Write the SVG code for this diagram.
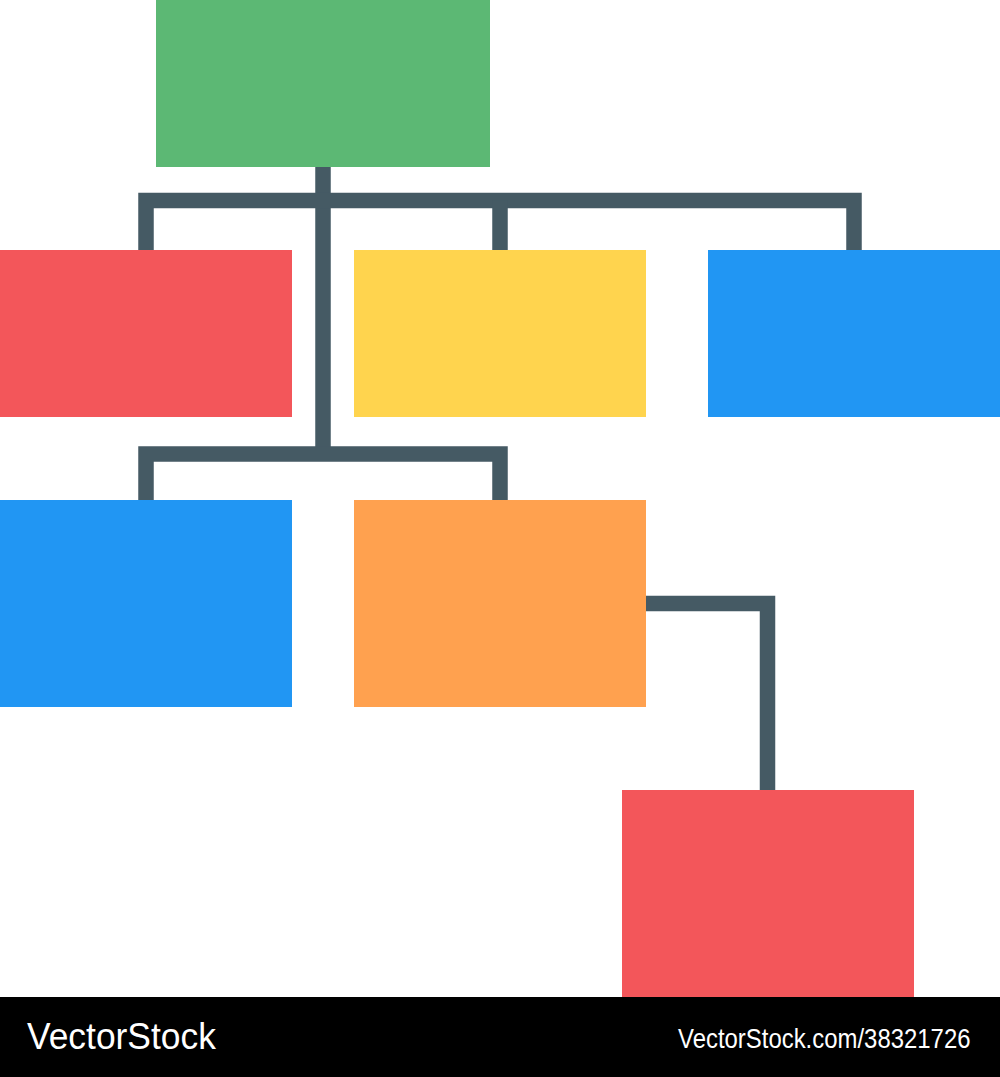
<svg xmlns="http://www.w3.org/2000/svg" width="1000" height="1077" viewBox="0 0 1000 1077">
<style>
.ln{fill:none;stroke:#455A64;stroke-width:15.5;stroke-linejoin:miter;stroke-linecap:butt}
.wm{fill:#FFFFFF;font-family:"Liberation Sans",Arial,sans-serif}
</style>
<rect x="0" y="0" width="1000" height="1077" fill="#FFFFFF"/>
<g id="connectors">
<path class="ln" d="M323 167 V454"/>
<path class="ln" d="M146 250 V200.5 H854 V250"/>
<path class="ln" d="M500 200.5 V250"/>
<path class="ln" d="M146 500 V454 H500 V500"/>
<path class="ln" d="M646 603.5 H767.5 V790"/>
</g>
<g id="root"><rect x="156" y="0" width="334" height="167" fill="#5CB874"/></g>
<g id="n-red1"><rect x="0" y="250" width="292" height="167" fill="#F3565A"/></g>
<g id="n-yellow"><rect x="354" y="250" width="292" height="167" fill="#FFD44E"/></g>
<g id="n-blue1"><rect x="708" y="250" width="292" height="167" fill="#2196F3"/></g>
<g id="n-blue2"><rect x="0" y="500" width="292" height="207" fill="#2196F3"/></g>
<g id="n-orange"><rect x="354" y="500" width="292" height="207" fill="#FFA14F"/></g>
<g id="n-red2"><rect x="622" y="790" width="292" height="207" fill="#F3565A"/></g>
<g id="watermark">
<rect x="0" y="997" width="1000" height="80" fill="#000000"/>
<text class="wm" transform="translate(27,1049) scale(0.957,1)" x="0" y="0" font-size="37">VectorStock</text>
<text class="wm" transform="translate(678,1048) scale(0.886,1)" x="0" y="0" font-size="27">VectorStock.com/38321726</text>
</g>
</svg>
